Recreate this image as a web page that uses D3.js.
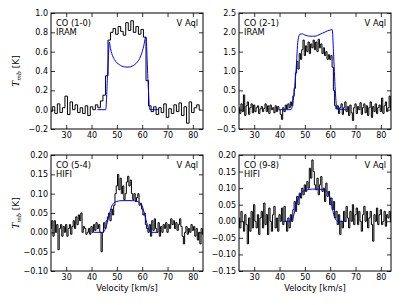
<!DOCTYPE html>
<html>
<head>
<meta charset="utf-8">
<script src="https://cdn.jsdelivr.net/npm/d3@7"></script>
<style>
  body { margin: 0; background: #fff; }
  text { font-family: "DejaVu Sans", sans-serif; fill: #000; }
</style>
</head>
<body>
<div id="chart"></div>
<script>
// velocity grid of each spectrum (first channel, channel width)
const velStart = 24;
const step10 = 1;
const stepHigh = 0.5;

// observed spectra, T_mb [K], one value per channel
const co10 = [
  -0.02, 0.03, -0.04, 0.06, -0.03, 0.02, 0.14, -0.05, 0.08, 0.0,
  0.05, -0.03, 0.02, -0.04, 0.04, -0.06, 0.03, 0.0, 0.05, 0.02,
  0.09, 0.15, 0.35, 0.72, 0.8, 0.84, 0.78, 0.86, 0.81, 0.77,
  0.9, 0.82, 0.92, 0.8, 0.86, 0.78, 0.83, 0.75, 0.3, 0.04,
  -0.02, 0.03, -0.05, 0.02, -0.03, 0.06, -0.08, 0.01, -0.04, 0.05,
  -0.02, 0.07, -0.06, 0.03, -0.14, 0.08, -0.03, 0.02, 0.05, 0.0
];
const co21 = [
  0.05, -0.1, 0.15, -0.05, 0.38, -0.15, 0.1, 0.2, -0.12, 0.05,
  0.15, -0.08, 0.12, -0.05, 0.05, 0.1, -0.1, 0.02, 0.08, -0.05,
  0.03, 0.15, -0.05, 0.1, -0.1, 0.12, 0.0, 0.05, -0.08, 0.1,
  -0.05, 0.08, 0.0, -0.12, -0.25, 0.05, -0.05, 0.12, 0.02, 0.15,
  0.05, 0.2, 0.1, 0.35, 0.55, 0.95, 1.25, 1.05, 1.45, 1.3,
  1.55, 1.8, 1.4, 1.65, 1.5, 1.75, 1.45, 1.7, 1.6, 1.8,
  1.55, 1.75, 1.5, 1.82, 1.6, 1.7, 1.45, 1.6, 1.4, 1.5,
  1.3, 1.42, 1.3, 1.4, 1.1, 0.5, 0.1, 0.02, 0.1, -0.1,
  0.05, 0.15, -0.12, 0.05, 0.2, -0.05, 0.08, -0.15, 0.12, -0.08,
  -0.28, 0.05, 0.15, -0.1, 0.08, 0.0, 0.18, -0.12, 0.05, 0.15,
  -0.08, 0.1, -0.15, 0.05, 0.2, -0.2, 0.08, -0.05, 0.15, -0.1,
  0.05, 0.12, -0.05, 0.3, -0.1, 0.1, 0.2, -0.05, 0.05, 0.35,
  0.0
];
const co54 = [
  0.01, 0.03, -0.01, 0.03, 0.0, 0.02, -0.045, 0.01, 0.02, -0.01,
  0.015, 0.0, 0.02, -0.01, 0.01, 0.02, -0.005, 0.015, 0.03, 0.01,
  0.04, 0.02, 0.045, 0.03, 0.05, 0.0, 0.015, 0.01, -0.005, 0.0,
  0.01, -0.005, 0.015, 0.0, 0.02, 0.005, 0.025, 0.01, 0.02, 0.0,
  -0.05, 0.0, 0.025, 0.01, 0.03, 0.04, 0.05, 0.03, 0.06, 0.045,
  0.07, 0.1, 0.12, 0.15, 0.11, 0.14, 0.1, 0.12, 0.085, 0.1,
  0.13, 0.145, 0.12, 0.135, 0.1, 0.085, 0.1, 0.08, 0.09, 0.1,
  0.07, 0.075, 0.06, 0.045, 0.05, 0.02, 0.01, 0.0, 0.02, -0.01,
  0.03, 0.005, 0.035, 0.01, 0.0, 0.025, -0.01, 0.015, 0.0, 0.02,
  0.01, 0.025, 0.0, 0.02, 0.01, 0.035, 0.02, 0.03, 0.01, 0.025,
  0.005, 0.02, 0.035, 0.015, -0.01, -0.03, 0.0, 0.015, -0.005, 0.01,
  0.0, 0.02, 0.005, 0.015, -0.01, 0.01, -0.02, 0.0, -0.03, 0.01,
  -0.005
];
const co98 = [
  0.01, -0.02, 0.03, 0.0, -0.03, 0.02, -0.01, -0.068, 0.01, -0.03,
  0.03, -0.02, 0.05, 0.0, -0.02, 0.02, -0.04, 0.01, 0.03, -0.02,
  0.055, -0.01, 0.02, -0.04, 0.04, 0.0, -0.03, 0.02, 0.045, -0.02,
  0.01, -0.03, 0.02, 0.0, 0.04, -0.01, 0.045, 0.0, -0.03, 0.01,
  -0.02, 0.02, 0.0, 0.035, 0.06, 0.03, 0.075, 0.05, 0.085, 0.07,
  0.1, 0.08, 0.11, 0.09, 0.12, 0.1, 0.16, 0.13, 0.185, 0.15,
  0.11, 0.095, 0.13, 0.08, 0.11, 0.135, 0.09, 0.1, 0.06, 0.115,
  0.075, 0.09, 0.05, 0.07, 0.035, 0.06, 0.01, 0.03, -0.01, 0.02,
  -0.04, 0.0, -0.02, 0.03, 0.0, 0.045, 0.01, -0.02, 0.03, 0.0,
  0.05, -0.01, 0.02, 0.04, -0.01, 0.03, 0.0, -0.03, 0.02, 0.045,
  0.0, 0.03, -0.02, 0.01, 0.03, -0.01, -0.06, 0.02, 0.0, 0.04,
  -0.01, 0.02, 0.035, -0.01, 0.0, 0.03, -0.015, 0.02, 0.01, 0.03,
  0.0
];

// model line profiles [velocity, T_mb]
const model10 = [
  [42.3, 0], [45.6, 0], [46.3, 0.35], [46.8, 0.62], [47.0, 0.70], [47.5, 0.63],
  [48, 0.58], [49, 0.52], [50, 0.485], [51, 0.465], [52, 0.45], [53, 0.443],
  [54, 0.44], [55, 0.442], [56, 0.45], [57, 0.465], [58, 0.49], [59, 0.53],
  [60, 0.6], [60.7, 0.67], [61.2, 0.74], [61.5, 0.75], [62.2, 0.35], [63, 0], [66.6, 0]
];
const model21 = [
  [40, 0], [44.5, 0], [45.5, 0.3], [46.5, 1.0], [47.3, 1.8], [48, 1.95],
  [49, 1.96], [50, 1.93], [51, 1.91], [52, 1.9], [53, 1.9], [54, 1.9],
  [55, 1.92], [56, 1.95], [57, 1.98], [58, 2.01], [59, 2.04], [60, 2.06],
  [60.8, 2.07], [61.3, 1.5], [62, 0.5], [62.7, 0.02], [66.5, 0]
];
const model54 = [
  [41, 0], [44.5, 0], [45.2, 0.005], [46, 0.02], [47, 0.045], [48, 0.068],
  [49, 0.077], [50, 0.08], [52, 0.082], [54, 0.082], [56, 0.082], [58, 0.08],
  [59, 0.077], [60, 0.068], [61, 0.045], [62, 0.02], [62.8, 0.005], [63.5, 0], [66, 0]
];
const model98 = [
  [41.5, 0], [44.5, 0], [45.3, 0.01], [46, 0.03], [46.8, 0.055], [47.5, 0.072],
  [48.5, 0.085], [49.5, 0.091], [51, 0.095], [53, 0.097], [55, 0.097], [57, 0.096],
  [58, 0.093], [59, 0.087], [60, 0.07], [60.7, 0.045], [61.4, 0.02], [62.2, 0.005],
  [63, 0], [66.5, 0]
];

// axes
const velDomain = [24, 84];
const velTicks = [30, 40, 50, 60, 70, 80];
const lineLabels = ['CO (1-0)', 'CO (2-1)', 'CO (5-4)', 'CO (9-8)'];
const telescopes = ['IRAM', 'IRAM', 'HIFI', 'HIFI'];
const starName = 'V Aql';
const yDomains = [[-0.2, 1.0], [-0.5, 2.5], [-0.10, 0.20], [-0.15, 0.20]];
const yTicks = [
  [-0.2, 0.0, 0.2, 0.4, 0.6, 0.8, 1.0],
  [-0.5, 0.0, 0.5, 1.0, 1.5, 2.0, 2.5],
  [-0.10, -0.05, 0.00, 0.05, 0.10, 0.15, 0.20],
  [-0.15, -0.10, -0.05, 0.00, 0.05, 0.10, 0.15, 0.20]
];
const yFormats = ['.1f', '.1f', '.2f', '.2f'];

const W = 407, H = 305;
const cols = [51, 239];
const rows = [13, 155];
const pw = 152, ph = 116;

const spectra = [
  { obs: co10, step: step10, model: model10 },
  { obs: co21, step: stepHigh, model: model21 },
  { obs: co54, step: stepHigh, model: model54 },
  { obs: co98, step: stepHigh, model: model98 }
];

const svg = d3.select('#chart').append('svg')
  .attr('width', W)
  .attr('height', H);

spectra.forEach((s, i) => {
  const left = cols[i % 2];
  const top = rows[Math.floor(i / 2)];

  const x = d3.scaleLinear().domain(velDomain).range([left, left + pw]);
  const y = d3.scaleLinear().domain(yDomains[i]).range([top + ph, top]);

  const g = svg.append('g');

  g.append('clipPath')
    .attr('id', 'clip' + i)
    .append('rect')
      .attr('x', left).attr('y', top)
      .attr('width', pw).attr('height', ph);

  const obs = s.obs.map((t, k) => [velStart + k * s.step, t]);

  const stepLine = d3.line()
    .x((d) => x(d[0]))
    .y((d) => y(d[1]))
    .curve(d3.curveStep);

  const smooth = d3.line()
    .x((d) => x(d[0]))
    .y((d) => y(d[1]))
    .curve(d3.curveMonotoneX);

  const plot = g.append('g').attr('clip-path', `url(#clip${i})`);

  plot.append('path')
    .datum(obs)
    .attr('fill', 'none')
    .attr('stroke', '#000')
    .attr('stroke-width', 1)
    .attr('d', stepLine);

  plot.append('path')
    .datum(s.model)
    .attr('fill', 'none')
    .attr('stroke', '#0000ff')
    .attr('stroke-width', 1)
    .attr('d', smooth);

  // ticks on all four sides, pointing inwards
  const fmt = d3.format(yFormats[i]);

  g.append('g')
    .attr('transform', `translate(0, ${top + ph})`)
    .call(d3.axisBottom(x).tickValues(velTicks).tickSize(-4).tickPadding(3.5));

  g.append('g')
    .attr('transform', `translate(0, ${top})`)
    .call(d3.axisTop(x).tickValues(velTicks).tickSize(-4).tickFormat(''));

  g.append('g')
    .attr('transform', `translate(${left}, 0)`)
    .call(d3.axisLeft(y).tickValues(yTicks[i]).tickSize(-4).tickPadding(3).tickFormat(fmt));

  g.append('g')
    .attr('transform', `translate(${left + pw}, 0)`)
    .call(d3.axisRight(y).tickValues(yTicks[i]).tickSize(-4).tickFormat(''));

  g.selectAll('.domain').remove();
  g.selectAll('.tick line').attr('stroke', '#000').attr('stroke-width', 0.8);
  g.selectAll('.tick text')
    .attr('font-family', '"DejaVu Sans", sans-serif')
    .attr('font-size', 8)
    .attr('fill', '#000');

  g.append('rect')
    .attr('x', left).attr('y', top)
    .attr('width', pw).attr('height', ph)
    .attr('fill', 'none')
    .attr('stroke', '#000')
    .attr('stroke-width', 1);

  g.append('text')
    .attr('x', left + 5).attr('y', top + 13)
    .attr('font-size', 8.3)
    .text(lineLabels[i]);

  g.append('text')
    .attr('x', left + 5).attr('y', top + 22)
    .attr('font-size', 8.3)
    .text(telescopes[i]);

  g.append('text')
    .attr('x', left + pw - 5).attr('y', top + 13)
    .attr('font-size', 8.3)
    .attr('text-anchor', 'end')
    .text(starName);

  if (i % 2 === 0) {
    const yl = svg.append('text')
      .attr('transform', `translate(19, ${top + ph / 2}) rotate(-90)`)
      .attr('text-anchor', 'middle')
      .attr('font-size', 9);
    yl.append('tspan').attr('font-style', 'italic').attr('font-family', '"DejaVu Serif", serif').text('T');
    yl.append('tspan').attr('font-size', 6).attr('font-style', 'italic').attr('font-family', '"DejaVu Serif", serif').attr('dy', 2).text('mb');
    yl.append('tspan').attr('dy', -2).text(' [K]');
  }

  if (i >= 2) {
    svg.append('text')
      .attr('x', left + pw / 2).attr('y', 291)
      .attr('text-anchor', 'middle')
      .attr('font-size', 8.3)
      .text('Velocity [km/s]');
  }
});
</script>
</body>
</html>
